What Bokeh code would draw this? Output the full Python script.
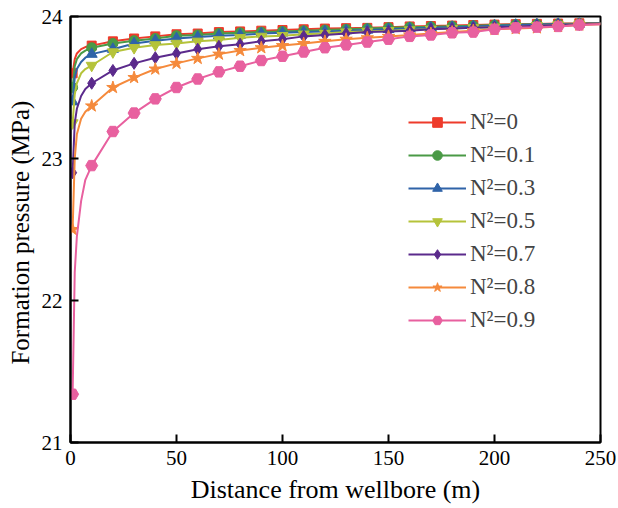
from bokeh.plotting import figure
from bokeh.models import Legend, LegendItem, FixedTicker, Range1d
from bokeh.embed import file_html
from bokeh.resources import INLINE

# Distance from wellbore (m) for the line samples
x_line = [1, 2, 3, 5, 7, 10, 20, 30, 40, 50, 60, 70, 80, 90, 100, 110, 120, 130,
          140, 150, 160, 170, 180, 190, 200, 210, 220, 230, 240, 250]
# Marker positions (subset of x_line)
x_mark = [1, 10, 20, 30, 40, 50, 60, 70, 80, 90, 100, 110, 120, 130, 140, 150,
          160, 170, 180, 190, 200, 210, 220, 230, 240]

labels = ["N²=0", "N²=0.1", "N²=0.3", "N²=0.5", "N²=0.7", "N²=0.8", "N²=0.9"]

p_n0 = [23.60, 23.70, 23.74, 23.77, 23.785, 23.795, 23.825, 23.845, 23.86, 23.875,
        23.88, 23.89, 23.895, 23.90, 23.905, 23.91, 23.915, 23.918, 23.92, 23.925,
        23.93, 23.933, 23.936, 23.94, 23.943, 23.946, 23.948, 23.95, 23.952, 23.955]
p_n01 = [23.50, 23.65, 23.70, 23.74, 23.76, 23.78, 23.81, 23.83, 23.845, 23.865,
         23.87, 23.88, 23.885, 23.89, 23.895, 23.90, 23.905, 23.91, 23.915, 23.92,
         23.925, 23.928, 23.932, 23.935, 23.94, 23.943, 23.946, 23.948, 23.95, 23.953]
p_n03 = [23.40, 23.57, 23.63, 23.68, 23.71, 23.735, 23.77, 23.81, 23.83, 23.845,
         23.855, 23.865, 23.87, 23.88, 23.885, 23.89, 23.895, 23.90, 23.905, 23.91,
         23.915, 23.92, 23.925, 23.93, 23.935, 23.94, 23.943, 23.946, 23.948, 23.952]
p_n05 = [23.25, 23.45, 23.53, 23.60, 23.63, 23.655, 23.75, 23.78, 23.80, 23.81,
         23.825, 23.835, 23.85, 23.86, 23.865, 23.875, 23.88, 23.89, 23.895, 23.90,
         23.905, 23.91, 23.915, 23.92, 23.925, 23.93, 23.935, 23.94, 23.945, 23.95]
p_n07 = [22.90, 23.25, 23.35, 23.44, 23.49, 23.53, 23.62, 23.67, 23.71, 23.74,
         23.77, 23.79, 23.805, 23.825, 23.84, 23.86, 23.87, 23.88, 23.89, 23.895,
         23.90, 23.91, 23.915, 23.92, 23.925, 23.93, 23.935, 23.94, 23.945, 23.95]
p_n08 = [22.50, 23.00, 23.17, 23.28, 23.33, 23.37, 23.50, 23.57, 23.63, 23.67,
         23.705, 23.735, 23.76, 23.78, 23.795, 23.81, 23.825, 23.84, 23.85, 23.86,
         23.87, 23.88, 23.89, 23.90, 23.91, 23.915, 23.92, 23.93, 23.94, 23.945]
p_n09 = [21.34, 22.20, 22.45, 22.70, 22.85, 22.95, 23.19, 23.32, 23.42, 23.50,
         23.56, 23.61, 23.65, 23.69, 23.72, 23.75, 23.78, 23.80, 23.82, 23.84,
         23.86, 23.87, 23.885, 23.89, 23.91, 23.92, 23.925, 23.93, 23.94, 23.945]

series = [p_n0, p_n01, p_n03, p_n05, p_n07, p_n08, p_n09]
colors = ["#EE3B2B", "#4A9A46", "#2F63A8", "#B5C33A", "#5B2A8C", "#F58A3C", "#E8609F"]
markers = ["square", "circle", "triangle", "inverted_triangle", "diamond", "star", "hex"]
msizes = [9, 10, 11, 11, 12, 13, 12]

x_ticks = [0, 50, 100, 150, 200, 250]
y_ticks = [21, 22, 23, 24]

p = figure(width=616, height=506, output_backend="svg", toolbar_location=None,
           x_range=Range1d(0, 250), y_range=Range1d(21, 24),
           min_border_left=70, min_border_right=16, min_border_top=16,
           min_border_bottom=63)
p.grid.visible = False
p.outline_line_color = "black"
p.outline_line_width = 2
p.background_fill_color = "white"
p.border_fill_color = "white"

font = "Liberation Serif"
for ax in (p.xaxis[0], p.yaxis[0]):
    ax.axis_line_width = 2
    ax.major_tick_in = 8
    ax.major_tick_out = 0
    ax.major_tick_line_width = 2
    ax.minor_tick_line_color = None
    ax.major_label_text_font = font
    ax.major_label_text_font_size = "21px"
    ax.major_label_text_color = "black"
    ax.axis_label_text_font = font
    ax.axis_label_text_font_style = "normal"
    ax.axis_label_text_color = "black"

p.xaxis.axis_label_text_font_size = "26px"
p.yaxis.axis_label_text_font_size = "25px"
p.xaxis.ticker = FixedTicker(ticks=x_ticks)
p.yaxis.ticker = FixedTicker(ticks=y_ticks)
p.xaxis.axis_label = "Distance from wellbore (m)"
p.yaxis.axis_label = "Formation pressure  (MPa)"
p.xaxis.major_label_standoff = 8
p.yaxis.major_label_standoff = 8
p.xaxis.axis_label_standoff = 7
p.yaxis.axis_label_standoff = 5

items = []
for lab, ys, c, m, s in zip(labels, series, colors, markers, msizes):
    lr = p.line(x_line, ys, line_color=c, line_width=2)
    xm = [x for x in x_line if x in x_mark]
    ym = [y for x, y in zip(x_line, ys) if x in x_mark]
    sr = p.scatter(xm, ym, marker=m, size=s, fill_color=c, line_color=c)
    items.append(LegendItem(label=lab, renderers=[lr, sr]))

legend = Legend(items=items, location=(338, 106), padding=0, spacing=0, margin=0,
                label_text_font=font, label_text_font_size="23px",
                label_height=33, glyph_height=24, glyph_width=58,
                label_standoff=4, border_line_alpha=0, background_fill_alpha=0)
p.add_layout(legend, "center")

open("out.html", "w").write(file_html(p, INLINE))
